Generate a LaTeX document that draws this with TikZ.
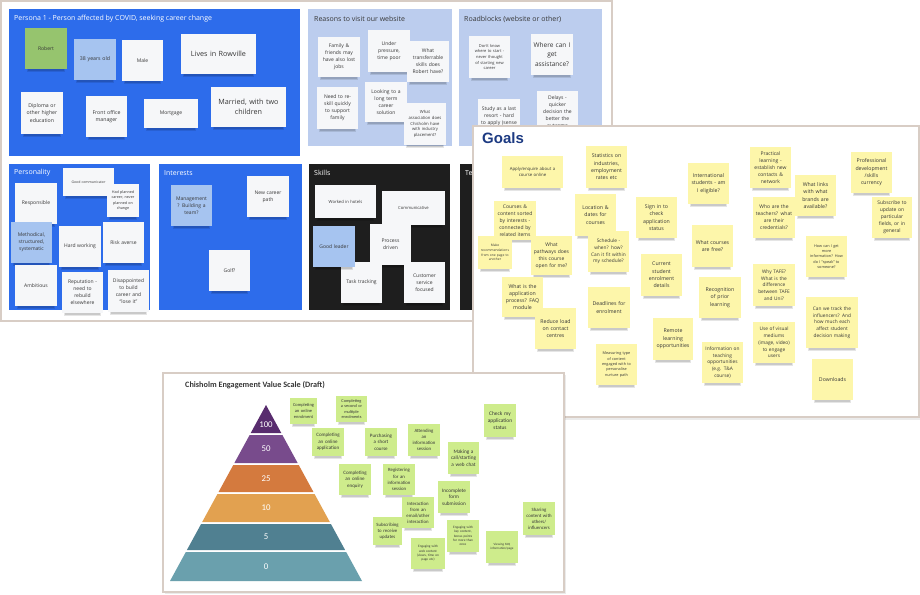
\documentclass[tikz,border=0pt]{standalone}
\usepackage{fontspec}
\setmainfont{Open Sans}
\newfontfamily\calfam{Carlito}
\newfontfamily\arialfam{Liberation Sans}
\hyphenpenalty=10000 \exhyphenpenalty=10000
\definecolor{pblue}{RGB}{45,108,235}
\definecolor{lblue}{RGB}{188,205,238}
\definecolor{darkp}{RGB}{30,30,30}
\definecolor{stw}{RGB}{246,247,249}
\definecolor{stb}{RGB}{166,196,240}
\definecolor{stg}{RGB}{150,196,110}
\definecolor{sty}{RGB}{253,246,170}
\definecolor{stl}{RGB}{206,236,140}
\definecolor{txt}{RGB}{55,55,55}
\definecolor{framec}{RGB}{216,205,197}
\definecolor{navy}{RGB}{28,58,130}
\definecolor{pA}{RGB}{88,44,110}
\definecolor{pB}{RGB}{120,75,140}
\definecolor{pC}{RGB}{212,122,62}
\definecolor{pD}{RGB}{226,161,80}
\definecolor{pE}{RGB}{80,128,145}
\definecolor{pF}{RGB}{106,160,173}
\def\stkfam{\rmfamily}
\def\stkr{1.4}
% name, style, x1, y1, x2, y2, font size, text
\newcommand\stk[8]{%
 \pgfmathsetmacro\stkW{#5-#3}%
 \pgfmathsetmacro\stkH{#6-#4}%
 \pgfmathsetmacro\stkT{#5-#3-2}%
 \pgfmathsetmacro\stkX{(#3+#5)/2}%
 \pgfmathsetmacro\stkY{(#4+#6)/2}%
 \pgfmathsetmacro\stkL{#7*\stkr}%
 \fill[black, opacity=0.10] ({#3+2},{#6-2}) rectangle ({#5-2},{#6+3});
 \fill[black, opacity=0.12] ({#3+3},{#6-1}) rectangle ({#5-3},{#6+1.5});
 \node[#2, minimum width=\stkW pt, minimum height=\stkH pt, text width=\stkT pt,
   font=\stkfam\fontsize{#7}{\stkL}\selectfont] (#1) at (\stkX,\stkY) {#8};
}
% name, y1, y2, colour, label, label y
\newcommand\pyr[6]{%
 \fill[#4] ({266-(#2-405)*0.54545},#2) -- ({266+(#2-405)*0.54545},#2)
   -- ({266+(#3-405)*0.54545},#3) -- ({266-(#3-405)*0.54545},#3) -- cycle;
 \node[pyrlab] (#1) at (266,#6) {#5};
}
\begin{document}
\begin{tikzpicture}[x=1pt,y=-1pt,
  stkbase/.style={align=center, inner sep=0pt, text=txt},
  wst/.style={stkbase, fill=stw},
  bst/.style={stkbase, fill=stb},
  gst/.style={stkbase, fill=stg},
  yst/.style={stkbase, fill=sty},
  lst/.style={stkbase, fill=stl},
  ttl/.style={anchor=west, inner sep=0pt, font=\fontsize{7}{8}\selectfont},
  pyrlab/.style={inner sep=0pt, text=white, font=\calfam\fontsize{8.8}{9}\selectfont},
  card/.style={fill=white, draw=framec, line width=1.4pt}]
\useasboundingbox (0,0) rectangle (920,594);
\fill[white] (0,0) rectangle (920,594);

% ---------------- Board 1 ----------------
\path[card] (1,1) rectangle (612,321);
\fill[pblue] (9,9) rectangle (300,156);
\node[ttl, text=white] (t_persona) at (14,19) {Persona 1 - Person affected by COVID, seeking career change};
\fill[lblue] (308,9) rectangle (452,146);
\node[ttl, text=txt] (t_reasons) at (314,19) {Reasons to visit our website};
\fill[lblue] (459,9) rectangle (602,146);
\node[ttl, text=txt] (t_road) at (464,19) {Roadblocks (website or other)};
\fill[pblue] (9,164) rectangle (150,310);
\node[ttl, text=white] (t_person) at (14,173) {Personality};
\fill[pblue] (159,164) rectangle (302,310);
\node[ttl, text=white] (t_interests) at (164,173) {Interests};
\fill[darkp] (309,164) rectangle (450,310);
\node[ttl, text=white] (t_skills) at (314,173) {Skills};
\fill[darkp] (460,164) rectangle (600,310);
\node[ttl, text=white] (t_te) at (465,173) {Te};

\stk{robert}{gst}{25}{28}{67}{69}{5}{Robert}
\stk{age}{bst}{74}{39}{116}{80}{5.2}{38 years old}
\stk{male}{wst}{122}{40}{163}{81}{5}{Male}
\stk{rowville}{wst}{181}{34}{256}{74}{7.2}{Lives in Rowville}
\stk{diploma}{wst}{21}{92}{63}{134}{5.2}{Diploma or\\other higher\\education}
\stk{frontoffice}{wst}{86}{96}{127}{137}{5.2}{Front office\\manager}
\stk{mortgage}{wst}{144}{99}{198}{128}{5}{Mortgage}
\stk{married}{wst}{211}{87}{286}{127}{7.2}{Married, with two\\children}

\stk{r_family}{wst}{318}{37}{360}{77}{5}{Family \&\\friends may\\have also lost\\jobs}
\stk{r_pressure}{wst}{368}{30}{410}{72}{5}{Under\\pressure,\\time poor}
\stk{r_skills}{wst}{407}{41}{449}{82}{5}{What\\transferrable\\skills does\\Robert have?}
\stk{r_reskill}{wst}{317}{87}{358}{129}{5}{Need to re-\\skill quickly\\to support\\family}
\stk{r_longterm}{wst}{365}{82}{407}{122}{5}{Looking to a\\long term\\career\\solution}
\stk{r_assoc}{wst}{404}{103}{446}{145}{4.2}{What\\association does\\Chisholm have\\with industry\\placement?}

\stk{b_start}{wst}{469}{36}{510}{78}{4}{Don't know\\where to start -\\never thought\\of starting new\\career}
\stk{b_assist}{wst}{531}{34}{573}{75}{6.5}{Where can I\\get\\assistance?}
\stk{b_study}{wst}{478}{99}{520}{133}{5}{Study as a last\\resort - hard\\to apply (sense}
\stk{b_delays}{wst}{537}{91}{578}{133}{5}{Delays -\\quicker\\decision the\\better the\\outcome}

\stk{p_comm}{wst}{63}{168}{114}{196}{3.5}{Good communicator}
\stk{p_resp}{wst}{15}{183}{57}{224}{5}{Responsible}
\stk{p_planned}{wst}{107}{184}{139}{217}{3.7}{Had planned\\career, never\\planned on\\change}
\stk{p_method}{bst}{11}{222}{52}{263}{5}{Methodical,\\structured,\\systematic}
\stk{p_hard}{wst}{59}{226}{101}{267}{5}{Hard working}
\stk{p_risk}{wst}{103}{222}{144}{263}{5}{Risk averse}
\stk{p_amb}{wst}{15}{265}{57}{306}{5}{Ambitious}
\stk{p_rep}{wst}{62}{272}{103}{313}{5}{Reputation -\\need to\\rebuild\\elsewhere}
\stk{p_disap}{wst}{108}{270}{149}{312}{5}{Disappointed\\to build\\career and\\``lose it''}

\stk{i_mgmt}{bst}{171}{185}{212}{226}{5}{Management\\? Building a\\team?}
\stk{i_career}{wst}{247}{176}{289}{217}{5}{New career\\path}
\stk{i_golf}{wst}{209}{250}{250}{291}{5}{Golf?}

\stk{s_hotels}{wst}{315}{185}{376}{218}{4.2}{Worked in hotels}
\stk{s_comm}{wst}{382}{191}{445}{225}{4.2}{Communicative}
\stk{s_process}{wst}{370}{224}{411}{265}{5}{Process\\driven}
\stk{s_task}{wst}{341}{262}{382}{303}{5}{Task tracking}
\stk{s_leader}{bst}{313}{226}{355}{267}{5}{Good leader}
\stk{s_customer}{wst}{404}{262}{445}{303}{5}{Customer\\service\\focused}

% ---------------- Goals card ----------------
\fill[black, opacity=0.08] (475,128) rectangle (921,420);
\path[card] (473,126) rectangle (919,417);
\node[anchor=west, inner sep=0pt, text=navy, font=\arialfam\bfseries\fontsize{15}{16}\selectfont] (g_title) at (482,138) {Goals};

\stk{g_apply}{yst}{502}{156}{563}{188}{4.3}{Apply/enquire about a\\course online}
\stk{g_stats}{yst}{586}{146}{627}{188}{5.2}{Statistics on\\industries,\\employment\\rates etc}
\stk{g_courses}{yst}{494}{201}{536}{240}{5}{Courses \&\\content sorted\\by interests -\\connected by\\related items}
\stk{g_make}{yst}{478}{236}{512}{269}{3.3}{Make\\recommendations\\from one page to\\another}
\stk{g_location}{yst}{575}{194}{616}{236}{5.2}{Location \&\\dates for\\courses}
\stk{g_pathways}{yst}{531}{236}{572}{275}{5}{What\\pathways does\\this course\\open for me?}
\stk{g_schedule}{yst}{588}{231}{629}{272}{4.8}{Schedule -\\when? how?\\Can it fit within\\my schedule?}
\stk{g_signin}{yst}{636}{197}{677}{238}{5.2}{Sign in to\\check\\application\\status}
\stk{g_current}{yst}{641}{254}{682}{296}{5.2}{Current\\student\\enrolment\\details}
\stk{g_intl}{yst}{688}{163}{729}{204}{5.2}{International\\students - am\\I eligible?}
\stk{g_process}{yst}{502}{277}{543}{317}{5.2}{What is the\\application\\process? FAQ\\module}
\stk{g_reduce}{yst}{535}{308}{576}{349}{5.2}{Reduce load\\on contact\\centres}
\stk{g_deadlines}{yst}{588}{287}{630}{328}{5.2}{Deadlines for\\enrolment}
\stk{g_measuring}{yst}{596}{344}{637}{385}{3.8}{Measuring type\\of content\\engaged with to\\personalise\\nurture path}
\stk{g_remote}{yst}{653}{318}{693}{360}{5.2}{Remote\\learning\\opportunities}
\stk{g_free}{yst}{692}{225}{733}{267}{5.2}{What courses\\are free?}
\stk{g_practical}{yst}{750}{147}{791}{188}{5}{Practical\\learning -\\establish new\\contacts \&\\network}
\stk{g_teachers}{yst}{753}{197}{795}{238}{5}{Who are the\\teachers? what\\are their\\credentials?}
\stk{g_links}{yst}{795}{175}{836}{216}{5.2}{What links\\with what\\brands are\\available?}
\stk{g_prof}{yst}{851}{152}{892}{193}{5.2}{Professional\\development\\/skills\\currency}
\stk{g_subscribe}{yst}{872}{197}{912}{238}{5}{Subscribe to\\update on\\particular\\fields, or in\\general}
\stk{g_howcan}{yst}{806}{236}{847}{277}{3.8}{How can I get\\more\\information? How\\do I ``speak'' to\\someone?}
\stk{g_tafe}{yst}{753}{264}{795}{306}{4.8}{Why TAFE?\\What is the\\difference\\between TAFE\\and Uni?}
\stk{g_rpl}{yst}{699}{277}{741}{318}{5.2}{Recognition\\of prior\\learning}
\stk{g_track}{yst}{806}{297}{858}{348}{4.8}{Can we track the\\influencers? And\\how much each\\affect student\\decision making}
\stk{g_visual}{yst}{753}{322}{795}{363}{4.8}{Use of visual\\mediums\\(image, video)\\to engage\\users}
\stk{g_teaching}{yst}{702}{342}{743}{383}{4.8}{Information on\\teaching\\opportunities\\(e.g. T\&A\\course)}
\stk{g_downloads}{yst}{812}{359}{853}{400}{5.2}{Downloads}

% ---------------- Chisholm card ----------------
\fill[black, opacity=0.08] (165,375) rectangle (566,594);
\path[card] (163,373) rectangle (564,592);
\node[anchor=west, inner sep=0pt, text=txt, font=\calfam\bfseries\fontsize{8.2}{9}\selectfont] (c_title) at (185,385) {Chisholm Engagement Value Scale (Draft)};

\pyr{lv100}{405}{433}{pA}{100}{425}
\pyr{lv50}{435}{463}{pB}{50}{449}
\pyr{lv25}{465}{492}{pC}{25}{478.5}
\pyr{lv10}{494}{522}{pD}{10}{508}
\pyr{lv5}{524}{550}{pE}{5}{537}
\pyr{lv0}{552}{581}{pF}{0}{566.5}

\def\stkfam{\calfam}
\def\stkr{1.27}
\stk{c_enrol}{lst}{290}{398}{317}{424}{4.5}{Completing\\an online\\enrolment}
\stk{c_second}{lst}{336}{396}{367}{422}{4.3}{Completing\\a second or\\multiple\\enrolments}
\stk{c_app}{lst}{312}{428}{344}{456}{5}{Completing\\an online\\application}
\stk{c_short}{lst}{365}{428}{397}{456}{5}{Purchasing\\a short\\course}
\stk{c_attend}{lst}{408}{424}{440}{456}{4.8}{Attending\\an\\information\\session}
\stk{c_enquiry}{lst}{339}{464}{371}{495}{5}{Completing\\an online\\enquiry}
\stk{c_register}{lst}{383}{464}{415}{495}{4.8}{Registering\\for an\\information\\session}
\stk{c_subscribe}{lst}{373}{517}{402}{545}{4.8}{Subscribing\\to receive\\updates}
\stk{c_interaction}{lst}{402}{497}{434}{528}{4.8}{Interaction\\from an\\email/other\\interaction}
\stk{c_webcontent}{lst}{411}{538}{445}{569}{3.4}{Engaging with\\web content\\(views, time on\\page etc)}
\stk{c_check}{lst}{484}{404}{516}{437}{5.4}{Check my\\application\\status}
\stk{c_call}{lst}{448}{442}{479}{474}{5.2}{Making a\\call/starting\\a web chat}
\stk{c_incomplete}{lst}{438}{481}{470}{513}{5.2}{Incomplete\\form\\submission}
\stk{c_keycontent}{lst}{447}{520}{479}{552}{3.4}{Engaging with\\key content,\\bonus points\\for more than\\once}
\stk{c_faq}{lst}{486}{531}{518}{563}{3.2}{Viewing FAQ\\information/page}
\stk{c_sharing}{lst}{523}{502}{555}{535}{4.8}{Sharing\\content with\\others/\\influencers}
\end{tikzpicture}
\end{document}
